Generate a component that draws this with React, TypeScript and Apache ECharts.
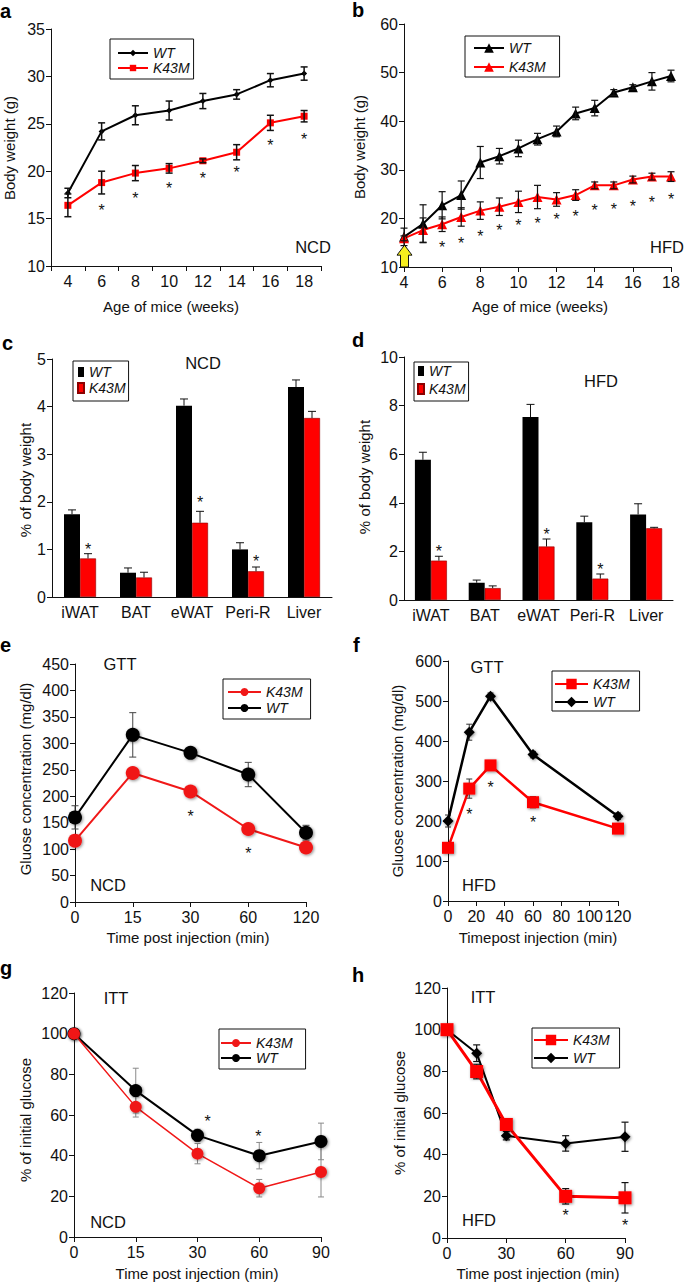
import React, { useEffect, useRef } from "react";
import * as echarts from "echarts";

const FONT = "'Liberation Sans', Arial, Helvetica, sans-serif";
const INK = "#111111";
const BLACK = "#000000";
const RED = "#ff0000";

// ---- Panel a: body weight, NCD ----
const aWeeks = ["4", "6", "8", "10", "12", "14", "16", "18"];
const aWT = [17.7, 24.2, 25.9, 26.4, 27.4, 28.1, 29.6, 30.3];
const aWTErr = [0.5, 0.9, 1.0, 1.0, 0.8, 0.5, 0.7, 0.7];
const aK43M = [16.4, 18.8, 19.8, 20.3, 21.1, 22.0, 25.1, 25.8];
const aK43MErr = [1.2, 1.2, 0.8, 0.5, 0.2, 0.8, 0.8, 0.6];
const aStarWeeks = ["6", "8", "10", "12", "14", "16", "18"];
const aStarY = [16.3, 17.5, 18.6, 19.6, 20.3, 23.1, 23.8];

// ---- Panel b: body weight, HFD ----
const bWeeks = [4, 5, 6, 7, 8, 9, 10, 11, 12, 13, 14, 15, 16, 17, 18];
const bWT = [16.2, 18.9, 22.7, 24.8, 31.5, 32.8, 34.4, 36.3, 37.9, 41.6, 42.7, 45.9, 47.0, 48.2, 49.3];
const bWTErr = [1.8, 3.9, 2.8, 2.9, 3.3, 1.6, 1.7, 1.2, 1.1, 1.3, 1.6, 0.6, 0.5, 1.8, 1.2];
const bK43M = [15.9, 17.6, 18.8, 20.3, 21.6, 22.4, 23.4, 24.4, 23.9, 24.8, 26.8, 26.8, 28.0, 28.6, 28.6];
const bK43MErr = [0.5, 2.5, 1.5, 1.9, 1.8, 1.8, 2.2, 2.4, 1.4, 1.1, 0.7, 0.7, 0.7, 0.7, 1.0];
const bStarWeeks = [6, 7, 8, 9, 10, 11, 12, 13, 14, 15, 16, 17, 18];
const bStarY = [14.8, 15.6, 17.0, 18.3, 19.4, 19.8, 20.5, 21.3, 22.5, 22.7, 23.3, 24.0, 24.8];
const bArrowWeek = 4;
const bArrowFrom = 10;
const bArrowTo = 14.5;

// ---- Panels c, d: fat pads ----
const tissues = ["iWAT", "BAT", "eWAT", "Peri-R", "Liver"];
const cWT = [1.74, 0.51, 4.02, 1.0, 4.41];
const cWTErr = [0.09, 0.1, 0.14, 0.14, 0.15];
const cK43M = [0.81, 0.41, 1.56, 0.54, 3.76];
const cK43MErr = [0.1, 0.11, 0.24, 0.09, 0.14];
const cStarTissues = ["iWAT", "eWAT", "Peri-R"];
const cStarY = [1.09, 2.06, 0.83];
const dWT = [5.77, 0.71, 7.53, 3.2, 3.52];
const dWTErr = [0.31, 0.11, 0.52, 0.25, 0.44];
const dK43M = [1.62, 0.49, 2.2, 0.88, 2.95];
const dK43MErr = [0.18, 0.09, 0.31, 0.19, 0.04];
const dStarTissues = ["iWAT", "eWAT", "Peri-R"];
const dStarY = [2.17, 2.88, 1.41];

// ---- Panel e: GTT NCD ----
const eTimes = ["0", "15", "30", "60", "120"];
const eWT = [160, 316, 282, 241, 131];
const eWTErr = [22, 42, 6, 23, 14];
const eK43M = [116, 244, 209, 138, 103];
const eK43MErr = [6, 6, 6, 6, 5];
const eStarTimes = ["30", "60"];
const eStarY = [169, 100];

// ---- Panel f: GTT HFD ----
const fTimes = [0, 15, 30, 60, 120];
const fWT = [200, 422, 512, 366, 212];
const fWTErr = [15, 20, 8, 8, 8];
const fK43M = [133, 281, 339, 247, 181];
const fK43MErr = [8, 24, 10, 14, 8];
const fStarTimes = [15, 30, 60];
const fStarY = [227, 294, 206];

// ---- Panel g: ITT NCD ----
const gTimes = ["0", "15", "30", "60", "90"];
const gWT = [100, 72, 50, 40, 47];
const gWTErr = [0, 11, 3, 6.5, 9];
const gK43M = [100, 64, 41, 24, 32];
const gK43MErr = [0, 5, 5, 4.3, 12.3];
const gStarTimes = ["30", "60"];
const gStarY = [58.8, 51.2];

// ---- Panel h: ITT HFD ----
const hTimes = [0, 15, 30, 60, 90];
const hWT = [100, 88.7, 49.1, 45.4, 48.6];
const hWTErr = [0, 4, 2, 3.7, 7];
const hK43M = [100, 79.9, 54.5, 20.0, 19.3];
const hK43MErr = [0, 3.5, 2, 3.7, 7.3];
const hStarTimes = [60, 90];
const hStarY = [12.5, 7.7];

// ---------- helpers ----------
const axisBase = {
  axisLine: { show: true, lineStyle: { color: INK, width: 1 } },
  axisTick: { show: true, length: 5, lineStyle: { color: INK, width: 1 } },
  splitLine: { show: false },
};
const labelStyle = { color: INK, fontSize: 16, fontFamily: FONT };

const yAx = (gi: number, min: number, max: number, interval: number) => ({
  ...axisBase,
  type: "value",
  gridIndex: gi,
  min,
  max,
  interval,
  axisLabel: { ...labelStyle, margin: 6 },
});
const xCat = (gi: number, data: string[], boundaryGap: boolean, showTick = true) => ({
  ...axisBase,
  type: "category",
  gridIndex: gi,
  data,
  boundaryGap,
  axisTick: { ...axisBase.axisTick, show: showTick, interval: 0 },
  axisLabel: { ...labelStyle, margin: 7, interval: 0 },
});
const xVal = (gi: number, min: number, max: number, interval: number) => ({
  ...axisBase,
  type: "value",
  gridIndex: gi,
  min,
  max,
  interval,
  axisLabel: { ...labelStyle, margin: 7 },
});

const pairs = (xs: any[], v: number[]) => xs.map((x, i) => [x, v[i]]);
const triples = (xs: any[], v: number[], e: number[]) => xs.map((x, i) => [x, v[i], e[i]]);
const idx = (cats: string[], names: string[]) => names.map((n) => cats.indexOf(n));

function errorBars(gi: number, data: any[], color: string, width: number, cap: number, z: number, dx = 0, upOnly = false) {
  return {
    type: "custom",
    xAxisIndex: gi,
    yAxisIndex: gi,
    data,
    z,
    silent: true,
    renderItem: (_p: any, api: any) => {
      const x = api.value(0);
      const y = api.value(1);
      const e = api.value(2);
      const top = api.coord([x, y + e]);
      const bot = api.coord([x, upOnly ? y : y - e]);
      const cx = top[0] + dx;
      const st = { stroke: color, lineWidth: width };
      const ch: any[] = [
        { type: "line", shape: { x1: cx, y1: top[1], x2: cx, y2: bot[1] }, style: st },
        { type: "line", shape: { x1: cx - cap / 2, y1: top[1], x2: cx + cap / 2, y2: top[1] }, style: st },
      ];
      if (!upOnly) {
        ch.push({ type: "line", shape: { x1: cx - cap / 2, y1: bot[1], x2: cx + cap / 2, y2: bot[1] }, style: st });
      }
      return { type: "group", children: ch };
    },
  };
}

function starText(x: number, y: number) {
  return {
    type: "text",
    x,
    y: y + 4,
    style: { text: "*", fill: INK, fontSize: 16, fontFamily: FONT, align: "center", verticalAlign: "middle" },
  };
}

function stars(gi: number, data: any[], dxs: number[] | number = 0) {
  return {
    type: "custom",
    xAxisIndex: gi,
    yAxisIndex: gi,
    data,
    z: 8,
    silent: true,
    renderItem: (p: any, api: any) => {
      const c = api.coord([api.value(0), api.value(1)]);
      const dx = Array.isArray(dxs) ? dxs[p.dataIndex] : dxs;
      return starText(c[0] + dx, c[1]);
    },
  };
}

const shadow = { shadowBlur: 3, shadowColor: "rgba(0,0,0,0.45)", shadowOffsetX: 1, shadowOffsetY: 1 };

function line(name: string, gi: number, data: any[], color: string, symbol: string, size: number, width: number, z: number, withShadow = false) {
  return {
    type: "line",
    name,
    xAxisIndex: gi,
    yAxisIndex: gi,
    data,
    symbol,
    symbolSize: size,
    showSymbol: true,
    z,
    lineStyle: { color, width },
    itemStyle: withShadow ? { color, ...shadow } : { color },
    emphasis: { disabled: true },
  };
}

function bar(name: string, gi: number, data: number[], color: string, border?: string) {
  return {
    type: "bar",
    name,
    xAxisIndex: gi,
    yAxisIndex: gi,
    data,
    barWidth: 16,
    barGap: "0%",
    z: 2,
    itemStyle: border ? { color, borderColor: border, borderWidth: 0.6 } : { color },
    emphasis: { disabled: true },
  };
}

function legend(names: string[], left: number, top: number, padding: number[], itemWidth: number, itemHeight: number, itemGap: number, icon?: string) {
  const l: any = {
    show: true,
    orient: "vertical",
    left,
    top,
    padding,
    itemWidth,
    itemHeight,
    itemGap,
    data: names,
    selectedMode: false,
    borderColor: INK,
    borderWidth: 1,
    borderRadius: 0,
    backgroundColor: "#ffffff",
    formatter: (n: string) => n.split("|")[0],
    textStyle: { fontStyle: "italic", fontSize: 14, color: INK, fontFamily: FONT },
  };
  if (icon) l.icon = icon;
  return l;
}

const txt = (x: number, y: number, text: string, size: number, rotate = false) => ({
  type: "text",
  x,
  y,
  rotation: rotate ? Math.PI / 2 : 0,
  z: 20,
  silent: true,
  style: { text, fill: INK, fontSize: size, fontFamily: FONT, align: "center", verticalAlign: "middle" },
});
const letter = (x: number, y: number, text: string) => ({
  type: "text",
  x,
  y,
  z: 20,
  silent: true,
  style: { text, fill: BLACK, fontSize: 20, fontWeight: "bold", fontFamily: FONT, align: "left", verticalAlign: "middle" },
});

function buildOption() {
  const grids = [
    { left: 51, top: 29, width: 270, height: 237 },
    { left: 404, top: 24, width: 267, height: 243 },
    { left: 52, top: 359, width: 280, height: 238 },
    { left: 404, top: 357, width: 269, height: 243 },
    { left: 75, top: 664, width: 231, height: 238 },
    { left: 448, top: 661, width: 170, height: 240 },
    { left: 74, top: 993, width: 247, height: 244 },
    { left: 447, top: 988, width: 178, height: 250 },
  ].map((g) => ({ ...g, outerBoundsMode: "none", containLabel: false }));

  const xAxis = [
    xCat(0, aWeeks, true),
    xVal(1, 4, 18, 2),
    xCat(2, tissues, true, false),
    xCat(3, tissues, true, false),
    xCat(4, eTimes, false),
    xVal(5, 0, 120, 20),
    xCat(6, gTimes, false),
    xVal(7, 0, 90, 30),
  ];
  const yAxis = [
    yAx(0, 10, 35, 5),
    yAx(1, 10, 60, 10),
    yAx(2, 0, 5, 1),
    yAx(3, 0, 10, 2),
    yAx(4, 0, 450, 50),
    yAx(5, 0, 600, 100),
    yAx(6, 0, 120, 20),
    yAx(7, 0, 120, 20),
  ];

  const aIdx = aWeeks.map((_, i) => i);
  const tIdx = tissues.map((_, i) => i);
  const eIdx = eTimes.map((_, i) => i);
  const gIdx = gTimes.map((_, i) => i);

  const arrowSeries = {
    type: "custom",
    xAxisIndex: 1,
    yAxisIndex: 1,
    data: [[bArrowWeek, bArrowFrom, bArrowTo]],
    z: 9,
    silent: true,
    clip: false,
    renderItem: (_p: any, api: any) => {
      const base = api.coord([api.value(0), api.value(1)]);
      const tip = api.coord([api.value(0), api.value(2)]);
      const x = tip[0] + 0.5;
      const hb = tip[1] + 10;
      return {
        type: "polygon",
        shape: {
          points: [
            [x, tip[1]],
            [x + 7.5, hb],
            [x + 4, hb],
            [x + 4, base[1]],
            [x - 4, base[1]],
            [x - 4, hb],
            [x - 7.5, hb],
          ],
        },
        style: { fill: "#f6ee1e", stroke: INK, lineWidth: 1 },
      };
    },
  };

  const series: any[] = [
    // a
    line("WT|a", 0, aWT, BLACK, "diamond", 6, 2, 3),
    line("K43M|a", 0, aK43M, RED, "rect", 7, 2, 3),
    errorBars(0, triples(aIdx, aWT, aWTErr), INK, 1.5, 7, 5),
    errorBars(0, triples(aIdx, aK43M, aK43MErr), INK, 1.5, 7, 5),
    stars(0, pairs(idx(aWeeks, aStarWeeks), aStarY)),
    // b
    line("WT|b", 1, pairs(bWeeks, bWT), BLACK, "triangle", 10, 2, 3),
    line("K43M|b", 1, pairs(bWeeks, bK43M), RED, "triangle", 10, 2, 3),
    errorBars(1, triples(bWeeks, bWT, bWTErr), INK, 1.2, 7, 5),
    errorBars(1, triples(bWeeks, bK43M, bK43MErr), INK, 1.2, 7, 5),
    stars(1, pairs(bStarWeeks, bStarY)),
    arrowSeries,
    // c
    bar("WT|c", 2, cWT, BLACK),
    bar("K43M|c", 2, cK43M, RED, "#8b0000"),
    errorBars(2, triples(tIdx, cWT, cWTErr), INK, 1, 8, 5, -8, true),
    errorBars(2, triples(tIdx, cK43M, cK43MErr), INK, 1, 8, 5, 8, true),
    stars(2, pairs(idx(tissues, cStarTissues), cStarY), 8),
    // d
    bar("WT|d", 3, dWT, BLACK),
    bar("K43M|d", 3, dK43M, RED, "#8b0000"),
    errorBars(3, triples(tIdx, dWT, dWTErr), INK, 1, 8, 5, -8, true),
    errorBars(3, triples(tIdx, dK43M, dK43MErr), INK, 1, 8, 5, 8, true),
    stars(3, pairs(idx(tissues, dStarTissues), dStarY), 8),
    // e
    errorBars(4, triples(eIdx, eWT, eWTErr), "#444444", 1, 7, 1),
    errorBars(4, triples(eIdx, eK43M, eK43MErr), "#444444", 1, 7, 1),
    line("WT|e", 4, eWT, BLACK, "circle", 14, 2, 3, true),
    line("K43M|e", 4, eK43M, "#f01818", "circle", 14, 2, 4, true),
    stars(4, pairs(idx(eTimes, eStarTimes), eStarY)),
    // f
    errorBars(5, triples(fTimes, fWT, fWTErr), "#333333", 1, 6, 1),
    errorBars(5, triples(fTimes, fK43M, fK43MErr), "#333333", 1, 6, 1),
    line("WT|f", 5, pairs(fTimes, fWT), BLACK, "diamond", 11, 2.5, 3, true),
    line("K43M|f", 5, pairs(fTimes, fK43M), RED, "rect", 12, 2.5, 4, true),
    stars(5, pairs(fStarTimes, fStarY)),
    // g
    errorBars(6, triples(gIdx, gWT, gWTErr), "#8a8a8a", 1, 6, 1),
    errorBars(6, triples(gIdx, gK43M, gK43MErr), "#8a8a8a", 1, 6, 1),
    line("WT|g", 6, gWT, BLACK, "circle", 13, 2, 3, true),
    line("K43M|g", 6, gK43M, "#f01818", "circle", 12, 1.5, 4, true),
    stars(6, pairs(idx(gTimes, gStarTimes), gStarY), [10, -1]),
    // h
    errorBars(7, triples(hTimes, hWT, hWTErr), INK, 1.2, 7, 1),
    errorBars(7, triples(hTimes, hK43M, hK43MErr), INK, 1.2, 7, 1),
    line("WT|h", 7, pairs(hTimes, hWT), BLACK, "diamond", 11, 2, 3, true),
    line("K43M|h", 7, pairs(hTimes, hK43M), RED, "rect", 13, 3, 4, true),
    stars(7, pairs(hStarTimes, hStarY)),
  ];

  const legends = [
    legend(["WT|a", "K43M|a"], 110, 39, [7, 4, 4, 7], 30, 8, 1),
    legend(["WT|b", "K43M|b"], 465, 36, [5, 14, 3, 8], 30, 12, 5),
    legend(["WT|c", "K43M|c"], 73, 361, [4, 3, 6, 4], 6, 10, 2, "rect"),
    legend(["WT|d", "K43M|d"], 414, 362, [2, 3, 5, 3], 6, 10, 4, "rect"),
    legend(["K43M|e", "WT|e"], 223, 679, [6, 8, 4, 4], 33, 10, 2),
    legend(["K43M|f", "WT|f"], 552, 671, [6, 10, 2, 2], 33, 13, 4),
    legend(["K43M|g", "WT|g"], 219, 1029, [7, 13, 4, 1], 30, 10, 1),
    legend(["K43M|h", "WT|h"], 532, 1028, [5, 10, 3, 1], 34, 13, 4),
  ];

  const graphic = [
    letter(0, 11, "a"),
    letter(352, 10, "b"),
    letter(2, 343, "c"),
    letter(352, 340, "d"),
    letter(0, 645, "e"),
    letter(353, 645, "f"),
    letter(0, 968, "g"),
    letter(352, 975, "h"),
    // axis titles
    txt(171, 306, "Age of mice (weeks)", 15),
    txt(540, 306, "Age of mice (weeks)", 15),
    txt(9, 148, "Body weight (g)", 15, true),
    txt(359, 147, "Body weight (g)", 15, true),
    txt(25, 480, "% of body weight", 15, true),
    txt(364, 477, "% of body weight", 15, true),
    txt(188, 937, "Time post injection (min)", 15),
    txt(538, 937, "Timepost injection (min)", 15),
    txt(25, 779, "Gluose concentration (mg/dl)", 15, true),
    txt(397, 781, "Gluose concentration (mg/dl)", 15, true),
    txt(197, 1273, "Time post injection (min)", 15),
    txt(538, 1273, "Time post injection (min)", 15),
    txt(25, 1120, "% of initial glucose", 15, true),
    txt(399, 1113, "% of initial glucose", 15, true),
    // in-plot labels
    txt(313, 247, "NCD", 16.5),
    txt(667, 247, "HFD", 16.5),
    txt(203, 363, "NCD", 16.5),
    txt(601, 381, "HFD", 16.5),
    txt(120, 664, "GTT", 16.5),
    txt(108, 885, "NCD", 16.5),
    txt(487, 667, "GTT", 16.5),
    txt(479, 885, "HFD", 16.5),
    txt(116, 998, "ITT", 16.5),
    txt(108, 1222, "NCD", 16.5),
    txt(483, 997, "ITT", 16.5),
    txt(479, 1220, "HFD", 16.5),
  ];

  return {
    animation: false,
    backgroundColor: "#ffffff",
    textStyle: { fontFamily: FONT },
    grid: grids,
    xAxis,
    yAxis,
    legend: legends,
    series,
    graphic,
  };
}

export default function App() {
  const ref = useRef<HTMLDivElement>(null);
  useEffect(() => {
    document.body.style.margin = "0";
    const chart = echarts.init(ref.current as HTMLDivElement, null, { renderer: "svg" });
    chart.setOption(buildOption() as any);
    return () => chart.dispose();
  }, []);
  return <div ref={ref} style={{ width: 685, height: 1284, background: "#ffffff" }} />;
}
